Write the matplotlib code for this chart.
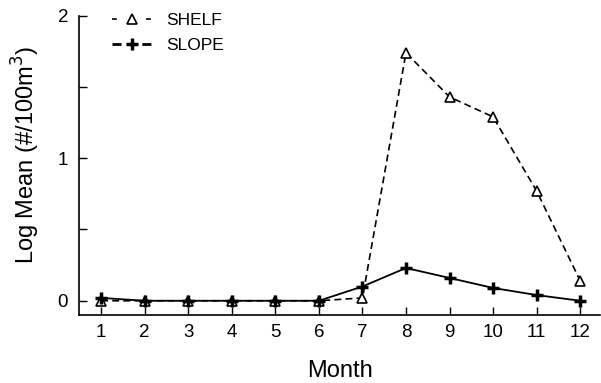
import matplotlib
matplotlib.use('Agg')
import matplotlib.pyplot as plt
from matplotlib.lines import Line2D
import numpy as np

plt.rcParams['font.family'] = ['Liberation Sans', 'DejaVu Sans']
plt.rcParams['lines.scale_dashes'] = False

# monthly log mean abundance
months = [1, 2, 3, 4, 5, 6, 7, 8, 9, 10, 11, 12]
shelf = [0.0, 0.0, 0.0, 0.0, 0.0, 0.0, 0.02, 1.74, 1.43, 1.29, 0.77, 0.14]
slope = [0.02, 0.0, 0.0, 0.0, 0.0, 0.0, 0.10, 0.23, 0.16, 0.09, 0.04, 0.0]

fig = plt.figure(figsize=(6.01, 3.83), dpi=100)
ax = fig.add_axes([0.132, 0.1775, 0.866, 0.7815])

ax.plot(months, shelf, color='k', lw=1.2, dashes=(5, 3), marker='^',
        ms=7, mfc='white', mec='k', mew=1.2, zorder=2)
ax.plot(months, slope, color='k', lw=1.3, marker='+', ms=9, mew=2.5,
        zorder=3)

ax.set_xlim(0.5, 12.45)
ax.set_ylim(-0.1, 2)
ax.set_xticks(months)
ax.set_yticks([0, 1, 2])
ax.set_yticks([0.5, 1.5], minor=True)
ax.tick_params(axis='both', direction='in', length=6, width=1, labelsize=13.5)
ax.tick_params(axis='y', which='minor', direction='in', length=6, width=1)
ax.tick_params(axis='x', pad=6.5)
ax.tick_params(axis='y', pad=8)
for s in ['top', 'right']:
    ax.spines[s].set_visible(False)
for s in ['left', 'bottom']:
    ax.spines[s].set_linewidth(1.2)

ax.set_xlabel('Month', fontsize=17, labelpad=14)
ax.set_ylabel('Log Mean (#/100m$^3$)', fontsize=17)
ax.yaxis.set_label_coords(-0.072, 0.535)

h_shelf = Line2D([], [], color='k', lw=1.2, linestyle=(0, (3.5, 21)), marker='^',
                 ms=7, mfc='white', mec='k', mew=1.2)
h_slope = Line2D([], [], color='k', lw=2, linestyle=(0, (6.5, 15)), marker='+',
                 ms=9, mew=2.5)
ax.legend([h_shelf, h_slope], ['SHELF', 'SLOPE'], loc='upper left',
          bbox_to_anchor=(0.032, 1.063), frameon=False, fontsize=12.5,
          handlelength=2.36, handletextpad=0.8, numpoints=1, labelspacing=0.6)

fig.savefig('out.png', dpi=100)
